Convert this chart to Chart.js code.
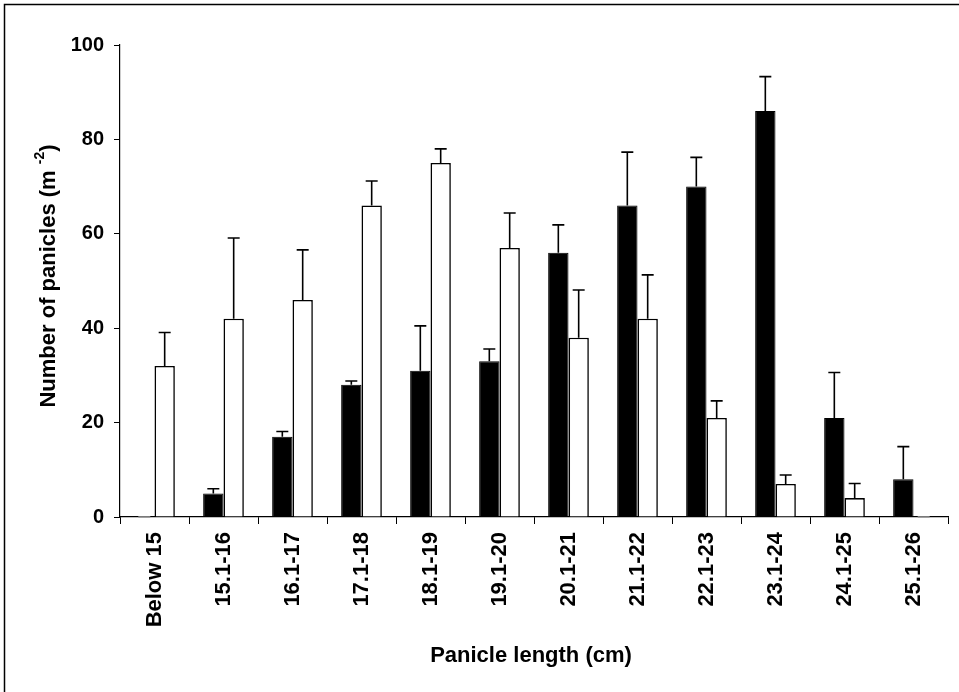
<!DOCTYPE html>
<html lang="en">
<head>
    <meta charset="UTF-8">
    <title>Panicle length</title>
    <script src="https://cdn.jsdelivr.net/npm/chart.js"></script>
    <style>
        html, body { margin: 0; padding: 0; background: #fff; }
        canvas { display: block; }
    </style>
</head>
<body>
    <canvas id="panicleChart" width="959" height="692"></canvas>

    <script>
        // data
        const categories = ['Below 15', '15.1-16', '16.1-17', '17.1-18', '18.1-19', '19.1-20',
                            '20.1-21', '21.1-22', '22.1-23', '23.1-24', '24.1-25', '25.1-26'];
        const blackValues = [0, 5, 17, 28, 31, 33, 56, 66, 70, 86, 21, 8];
        const blackErrors = [0, 1, 1.1, 0.8, 9.5, 2.6, 5.9, 11.3, 6.2, 7.3, 9.6, 6.9];
        const whiteValues = [32, 42, 46, 66, 75, 57, 38, 42, 21, 7, 4, 0];
        const whiteErrors = [7.1, 17.1, 10.6, 5.2, 3, 7.4, 10.1, 9.3, 3.6, 1.9, 3.1, 0];
        const yTicks = [0, 20, 40, 60, 80, 100];

        const FONT = "'Liberation Sans', Arial, Helvetica, sans-serif";

        // one-sided (upward) error bars
        const errorBars = {
            id: 'errorBars',
            afterDatasetsDraw(chart) {
                const ctx = chart.ctx;
                const y = chart.scales.y;
                const errs = [blackErrors, whiteErrors];
                ctx.save();
                ctx.lineWidth = 1.6;
                chart.data.datasets.forEach((ds, i) => {
                    chart.getDatasetMeta(i).data.forEach((bar, j) => {
                        const top = y.getPixelForValue(ds.data[j] + errs[i][j]);
                        const base = y.getPixelForValue(ds.data[j]);
                        ctx.strokeStyle = errs[i][j] === 0 ? '#999' : '#000';
                        ctx.beginPath();
                        ctx.moveTo(bar.x, base);
                        ctx.lineTo(bar.x, top);
                        ctx.moveTo(bar.x - 6, top);
                        ctx.lineTo(bar.x + 6, top);
                        ctx.stroke();
                    });
                });
                ctx.restore();
            }
        };

        // frame + axis titles
        const decorations = {
            id: 'decorations',
            afterDraw(chart) {
                const ctx = chart.ctx;
                ctx.save();
                ctx.strokeStyle = '#000';
                ctx.lineWidth = 1.5;
                ctx.beginPath();
                ctx.moveTo(4.5, chart.height);
                ctx.lineTo(4.5, 4.5);
                ctx.lineTo(chart.width, 4.5);
                ctx.stroke();

                ctx.fillStyle = '#000';
                ctx.font = 'bold 22px ' + FONT;
                ctx.textAlign = 'center';
                ctx.textBaseline = 'middle';
                ctx.fillText('Panicle length (cm)', 531, 656);

                // y title with superscript
                const main = 'Number of panicles (m ';
                const sup = '-2';
                const close = ')';
                ctx.translate(47, 276);
                ctx.rotate(-Math.PI / 2);
                ctx.font = 'bold 22px ' + FONT;
                const wMain = ctx.measureText(main).width;
                const wClose = ctx.measureText(close).width;
                ctx.font = 'bold 14px ' + FONT;
                const wSup = ctx.measureText(sup).width;
                let x = -(wMain + wSup + wClose) / 2;
                ctx.textAlign = 'left';
                ctx.textBaseline = 'alphabetic';
                ctx.font = 'bold 22px ' + FONT;
                ctx.fillText(main, x, 8);
                x += wMain;
                ctx.font = 'bold 14px ' + FONT;
                ctx.fillText(sup, x, -3);
                x += wSup;
                ctx.font = 'bold 22px ' + FONT;
                ctx.fillText(close, x, 8);
                ctx.restore();
            }
        };

        new Chart(document.getElementById('panicleChart'), {
            type: 'bar',
            data: {
                labels: categories,
                datasets: [{
                    data: blackValues,
                    backgroundColor: '#000',
                    borderColor: '#000',
                    borderWidth: 1,
                    categoryPercentage: 0.59,
                    barPercentage: 1
                }, {
                    data: whiteValues,
                    backgroundColor: '#fff',
                    borderColor: '#000',
                    borderWidth: 1.6,
                    categoryPercentage: 0.59,
                    barPercentage: 1
                }]
            },
            options: {
                responsive: false,
                animation: false,
                layout: { padding: { top: 45, right: 11, left: 0, bottom: 0 } },
                plugins: {
                    legend: { display: false },
                    tooltip: { enabled: false }
                },
                scales: {
                    x: {
                        afterFit: (s) => { s.height = 175; },
                        grid: {
                            offset: true,
                            drawOnChartArea: false,
                            color: '#000',
                            tickLength: 7
                        },
                        border: { color: '#000', width: 1.2 },
                        ticks: {
                            color: '#000',
                            font: { family: FONT, size: 22, weight: 'bold' },
                            minRotation: 90,
                            maxRotation: 90,
                            padding: 8,
                            autoSkip: false
                        }
                    },
                    y: {
                        min: 0,
                        max: 100,
                        afterFit: (s) => { s.width = 120; },
                        afterBuildTicks: (s) => { s.ticks = yTicks.map(v => ({ value: v })); },
                        grid: {
                            drawOnChartArea: false,
                            color: '#000',
                            tickLength: 6
                        },
                        border: { color: '#000', width: 1.2 },
                        ticks: {
                            color: '#000',
                            font: { family: FONT, size: 20, weight: 'bold' },
                            padding: 10
                        }
                    }
                }
            },
            plugins: [errorBars, decorations]
        });
    </script>
</body>
</html>
